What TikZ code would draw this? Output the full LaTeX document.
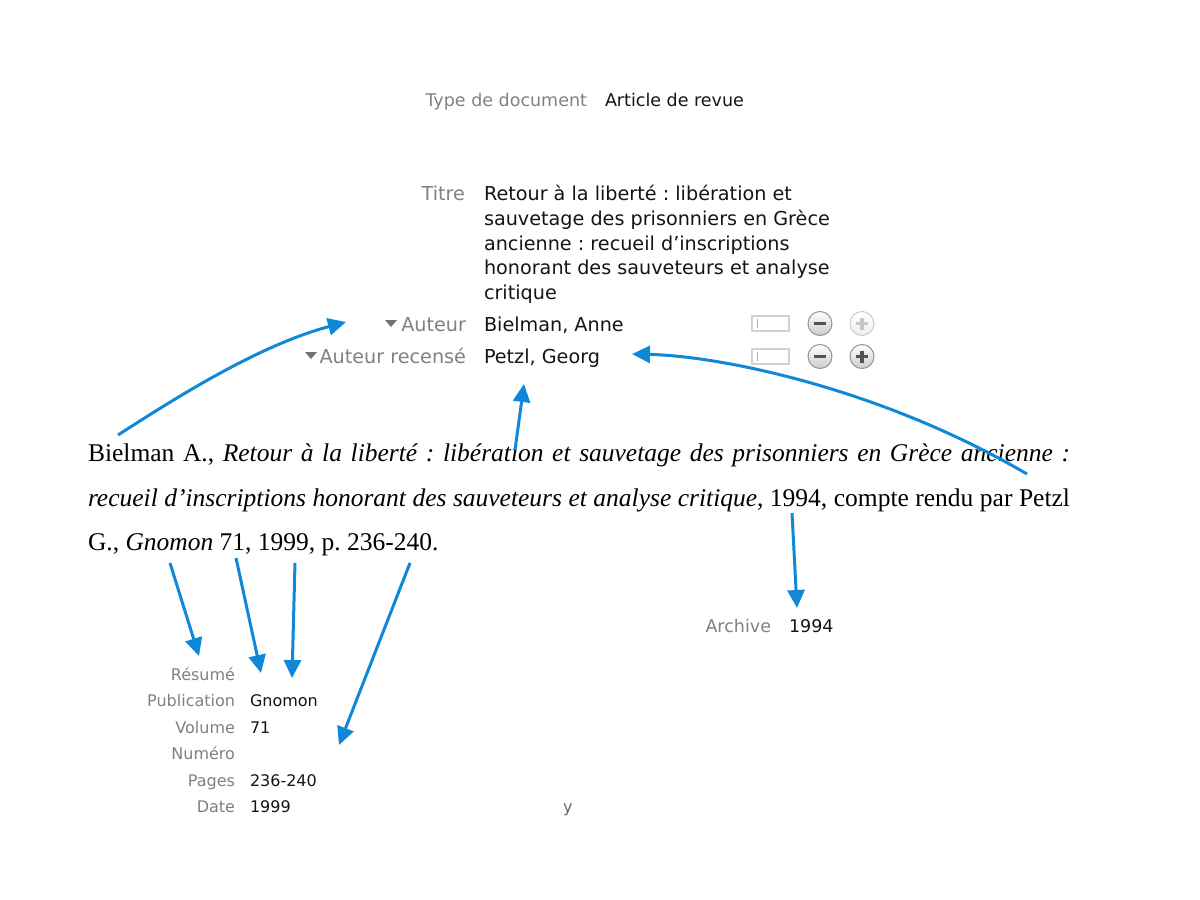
\documentclass[tikz,border=0pt]{standalone}
\usepackage{fontspec}
\setmainfont{Liberation Serif}
\newfontfamily\uifont{DejaVu Sans}
\usetikzlibrary{arrows.meta}
\definecolor{arrowblue}{RGB}{16,136,216}
\definecolor{labelgray}{RGB}{128,128,128}
\definecolor{valuecol}{RGB}{20,20,20}
\begin{document}
\frenchspacing
\begin{tikzpicture}[x=0.5pt,y=-0.5pt,
  every node/.style={inner sep=0pt, outer sep=0pt},
  lab/.style={anchor=base east, text=labelgray},
  val/.style={anchor=base west, text=valuecol},
  topfont/.style={font=\uifont\fontsize{9.6pt}{12pt}\selectfont},
  midfont/.style={font=\uifont\fontsize{8.75pt}{11pt}\selectfont},
  lowfont/.style={font=\uifont\fontsize{8pt}{10pt}\selectfont},
  citeline/.style={anchor=base west, text=black, font=\fontsize{12.75pt}{15pt}\selectfont},
  link/.style={draw=arrowblue, line width=1.5pt, -{Triangle[length=9pt,width=8.5pt]}},
  fieldbox/.style={draw=black!18, fill=white, line width=0.6pt},
  btn/.style={draw=black!42, line width=0.5pt, top color=white, bottom color=black!20},
  btnoff/.style={draw=black!20, line width=0.5pt, top color=white, bottom color=black!7},
  sign/.style={line width=1.6pt, color=black!68},
  signoff/.style={line width=1.6pt, color=black!22},
  disclose/.style={fill=black!55, draw=none}
]
\useasboundingbox (0,0) rectangle (1200,900);

% --- top fields
\node[lab, midfont] (typelab) at (587,106.5) {Type de document};
\node[val, midfont] (typeval) at (605,106.5) {Article de revue};

\node[lab, topfont] (titrelab) at (465,200.5) {Titre};
\node[val, topfont] (t1) at (484,200.5) {Retour à la liberté : libération et};
\node[val, topfont] (t2) at (484,225.3) {sauvetage des prisonniers en Grèce};
\node[val, topfont] (t3) at (484,250.1) {ancienne : recueil d’inscriptions};
\node[val, topfont] (t4) at (484,274.9) {honorant des sauveteurs et analyse};
\node[val, topfont] (t5) at (484,299.7) {critique};

\node[lab, topfont] (auteurlab) at (466,331) {Auteur};
\node[val, topfont] (auteurval) at (484,331) {Bielman, Anne};
\node[lab, topfont] (recenselab) at (466,363) {Auteur recensé};
\node[val, topfont] (recenseval) at (484,363) {Petzl, Georg};

\fill[disclose] (385,320) -- (397,320) -- (391,327) -- cycle;
\fill[disclose] (305,352) -- (317,352) -- (311,359) -- cycle;

% --- buttons row 1
\draw[fieldbox] (752,316) rectangle (789,331);
\draw[black!30, line width=0.5pt] (757,319) -- (757,328);
\draw[btn] (820,323.5) circle[radius=6pt];
\draw[sign] (814,323.5) -- (826,323.5);
\draw[btnoff] (862,323.5) circle[radius=6pt];
\draw[signoff] (856,323.5) -- (868,323.5) (862,317.5) -- (862,329.5);
% --- buttons row 2
\draw[fieldbox] (752,349) rectangle (789,364);
\draw[black!30, line width=0.5pt] (757,352) -- (757,361);
\draw[btn] (820,356.5) circle[radius=6pt];
\draw[sign] (814,356.5) -- (826,356.5);
\draw[btn] (862,356.5) circle[radius=6pt];
\draw[sign] (856,356.5) -- (868,356.5) (862,350.5) -- (862,362.5);

% --- citation
\node[citeline] (c1) at (88,461) {\makebox[491pt][s]{Bielman A., \textit{Retour à la liberté : libération et sauvetage des prisonniers en Grèce ancienne :}}};
\node[citeline] (c2) at (88,506) {\makebox[491pt][s]{\textit{recueil d’inscriptions honorant des sauveteurs et analyse critique}, 1994, compte rendu par Petzl}};
\node[citeline] (c3) at (88,550) {G., \textit{Gnomon} 71, 1999, p. 236-240.};

% --- archive
\node[lab, midfont] (archlab) at (771,632) {Archive};
\node[val, midfont] (archval) at (789,632) {1994};

% --- lower fields
\node[lab, lowfont] (resumelab) at (235,680) {Résumé};
\node[lab, lowfont] (publab) at (235,706.5) {Publication};
\node[val, lowfont] (pubval) at (250,706.5) {Gnomon};
\node[lab, lowfont] (vollab) at (235,733) {Volume};
\node[val, lowfont] (volval) at (250,733) {71};
\node[lab, lowfont] (numlab) at (235,759.5) {Numéro};
\node[lab, lowfont] (pageslab) at (235,786) {Pages};
\node[val, lowfont] (pagesval) at (250,786) {236-240};
\node[lab, lowfont] (datelab) at (235,812.5) {Date};
\node[val, lowfont] (dateval) at (250,812.5) {1999};
\node[anchor=base west, lowfont, text=black!60] (ymark) at (563,812.5) {y};

% --- arrows
\coordinate (s1) at (118,435);  \coordinate (e1) at (346,322);
\coordinate (s2) at (515,450);  \coordinate (e2) at (524,384);
\coordinate (s3) at (1027,474); \coordinate (e3) at (632,354);
\coordinate (s4) at (792,513);  \coordinate (e4) at (797,608);
\coordinate (s5) at (170,563);  \coordinate (e5) at (199,656);
\coordinate (s6) at (236,558);  \coordinate (e6) at (261,673);
\coordinate (s7) at (295,563);  \coordinate (e7) at (292,678);
\coordinate (s8) at (410,563);  \coordinate (e8) at (339,745);

\draw[link] (s1) .. controls (180,395) and (260,345) .. (e1);
\draw[link] (s2) -- (e2);
\draw[link] (s3) .. controls (880,388) and (720,356) .. (e3);
\draw[link] (s4) -- (e4);
\draw[link] (s5) -- (e5);
\draw[link] (s6) -- (e6);
\draw[link] (s7) -- (e7);
\draw[link] (s8) -- (e8);
\end{tikzpicture}
\end{document}
